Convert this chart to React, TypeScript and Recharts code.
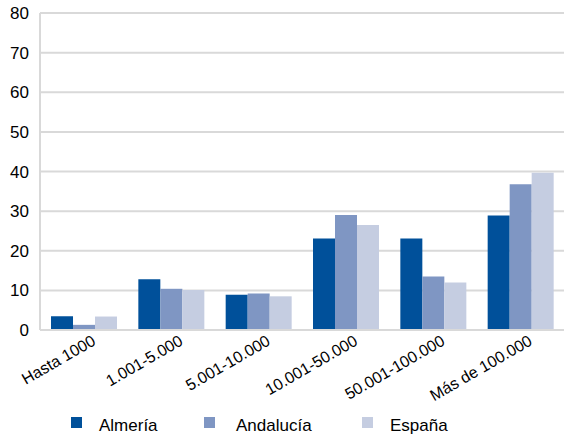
import { BarChart, Bar, XAxis, YAxis, CartesianGrid } from 'recharts';

const CATEGORIES = ['Hasta 1000', '1.001-5.000', '5.001-10.000', '10.001-50.000', '50.001-100.000', 'Más de 100.000'];
const ALMERIA = [3.5, 12.8, 8.9, 23.1, 23.1, 28.9];
const ANDALUCIA = [1.3, 10.4, 9.2, 29.0, 13.5, 36.8];
const ESPANA = [3.4, 10.1, 8.5, 26.5, 12.0, 39.7];
const Y_TICKS = [0, 10, 20, 30, 40, 50, 60, 70, 80];

const SERIES = [
  { key: 'almeria', name: 'Almería', color: '#00509a' },
  { key: 'andalucia', name: 'Andalucía', color: '#7f96c3' },
  { key: 'espana', name: 'España', color: '#c5cde1' },
];

const data = CATEGORIES.map((name, i) => ({
  name,
  almeria: ALMERIA[i],
  andalucia: ANDALUCIA[i],
  espana: ESPANA[i],
}));

const FONT = '"Liberation Sans", Arial, sans-serif';

// legend placement (square x, text x)
const LEGEND_POS = [
  [71, 99],
  [204, 236],
  [362, 390],
];

const RotatedTick = (props: any) => {
  const { x, y, payload } = props;
  const ax = x + 13;
  const ay = y + 6;
  return (
    <text
      x={ax}
      y={ay}
      transform={`rotate(-30, ${ax}, ${ay})`}
      textAnchor="end"
      fill="#000"
      fontSize={16}
      fontFamily={FONT}
    >
      {payload.value}
    </text>
  );
};

export default function App() {
  return (
    <div style={{ position: 'absolute', left: 0, top: 0, width: 564, height: 434, background: '#fff', fontFamily: FONT }}>
      <BarChart
        width={564}
        height={434}
        data={data}
        margin={{ top: 13, right: 0, bottom: 0, left: 0 }}
        barCategoryGap="12.6%"
        barGap={0}
      >
        <CartesianGrid vertical={false} stroke="#d9d9d9" strokeWidth={2} />
        <XAxis
          dataKey="name"
          height={104}
          interval={0}
          tickLine={false}
          axisLine={{ stroke: '#d9d9d9', strokeWidth: 2 }}
          tick={<RotatedTick />}
        />
        <YAxis
          width={40}
          domain={[0, 80]}
          ticks={Y_TICKS}
          interval={0}
          tickLine={false}
          axisLine={{ stroke: '#d9d9d9', strokeWidth: 2 }}
          tickMargin={5}
          tick={{ fill: '#000', fontSize: 17, fontFamily: FONT }}
        />
        {SERIES.map((s) => (
          <Bar key={s.key} dataKey={s.key} name={s.name} fill={s.color} isAnimationActive={false} />
        ))}
      </BarChart>
      {SERIES.map((s, i) => (
        <div key={s.key}>
          <span
            style={{ position: 'absolute', left: LEGEND_POS[i][0], top: 417, width: 11, height: 11, background: s.color }}
          />
          <span
            style={{ position: 'absolute', left: LEGEND_POS[i][1], top: 416, fontSize: 17, color: '#000', lineHeight: '20px', whiteSpace: 'nowrap' }}
          >
            {s.name}
          </span>
        </div>
      ))}
    </div>
  );
}
